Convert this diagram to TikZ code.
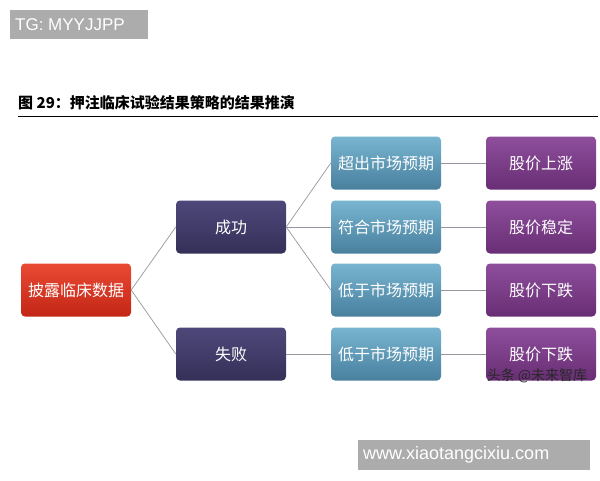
\documentclass[tikz,border=0pt]{standalone}
\usepackage{fontspec}
\newfontfamily\cjk{Noto Sans CJK SC}
\setsansfont{Liberation Sans}
\begin{document}
\begin{tikzpicture}[x=1pt,y=-1pt,
  box/.style={rounded corners=4pt,minimum width=110pt,minimum height=53pt,inner sep=0pt,font=\cjk\fontsize{16}{16}\selectfont,text=white},
  redbox/.style={box,top color={rgb,255:red,232;green,74;blue,52},bottom color={rgb,255:red,196;green,38;blue,22}},
  navybox/.style={box,top color={rgb,255:red,78;green,72;blue,122},bottom color={rgb,255:red,52;green,48;blue,88}},
  tealbox/.style={box,top color={rgb,255:red,120;green,180;blue,208},bottom color={rgb,255:red,72;green,128;blue,158}},
  plumbox/.style={box,top color={rgb,255:red,142;green,78;blue,156},bottom color={rgb,255:red,104;green,46;blue,116}},
  link/.style={draw={rgb,255:red,150;green,150;blue,160},line width=0.7pt}]
\useasboundingbox (0,0) rectangle (600,480);

% watermark top
\fill[gray!65] (10,10) rectangle (148,39);
\node[anchor=west,text=white,font=\sffamily\fontsize{17}{17}\selectfont,inner sep=0pt] (tg) at (15,25) {TG: MYYJJPP};

% title
\node[anchor=west,font=\cjk\bfseries\fontsize{15}{15}\selectfont,inner sep=0pt] (title) at (18,103) {图 29：押注临床试验结果策略的结果推演};
\draw[line width=1pt] (18,116) -- (598,116);

% nodes
\node[redbox] (data) at (76,290) {披露临床数据};
\node[navybox] (succ) at (231,227) {成功};
\node[navybox] (fail) at (231,354) {失败};
\node[tealbox] (m1) at (386,163) {超出市场预期};
\node[tealbox] (m2) at (386,227) {符合市场预期};
\node[tealbox] (m3) at (386,290) {低于市场预期};
\node[tealbox] (m4) at (386,354) {低于市场预期};
\node[plumbox] (s1) at (541,163) {股价上涨};
\node[plumbox] (s2) at (541,227) {股价稳定};
\node[plumbox] (s3) at (541,290) {股价下跌};
\node[plumbox] (s4) at (541,354) {股价下跌};

% links
\draw[link] (data.east) -- (succ.west);
\draw[link] (data.east) -- (fail.west);
\foreach \m in {m1,m2,m3}
  \draw[link] (succ.east) -- (\m.west);
\draw[link] (fail.east) -- (m4.west);
\foreach \i in {1,...,4}
  \draw[link] (m\i.east) -- (s\i.west);

% watermarks bottom
\node[font=\cjk\fontsize{14}{14}\selectfont,text={rgb,255:red,40;green,40;blue,40},inner sep=0pt] (tt) at (537,376) {头条 @未来智库};
\fill[gray!65] (358,440) rectangle (590,470);
\node[anchor=west,text=white,font=\sffamily\fontsize{18}{18}\selectfont,inner sep=0pt] (url) at (363,455) {www.xiaotangcixiu.com};
\end{tikzpicture}
\end{document}
